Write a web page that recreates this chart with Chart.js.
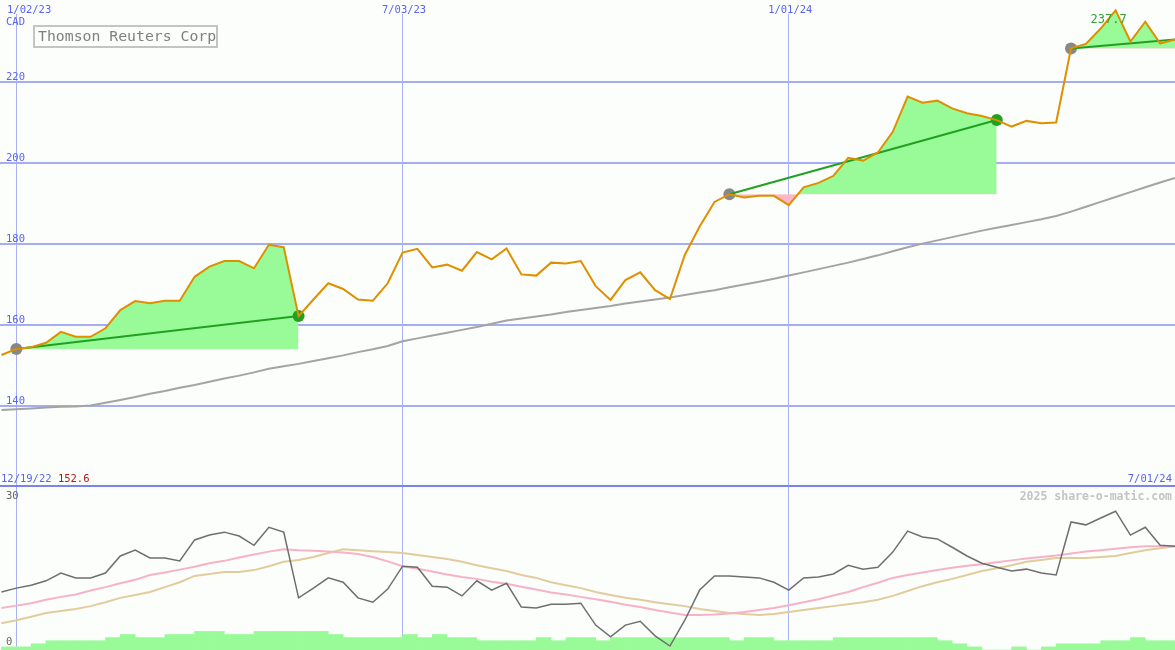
<!DOCTYPE html>
<html>
<head>
<meta charset="utf-8">
<title>Thomson Reuters Corp</title>
<script src="https://cdn.jsdelivr.net/npm/chart.js@4.4.1/dist/chart.umd.min.js"></script>
<style>
  html, body { margin: 0; padding: 0; background: #fbfefa; }
  canvas { display: block; }
</style>
</head>
<body>
<canvas id="price-chart" width="1175" height="487"></canvas>
<canvas id="osc-chart" width="1175" height="163"></canvas>
<script>
'use strict';

// weekly data, week 0 = 12/26/22
const prices = [
  152.6, 154.1, 154.5, 155.6, 158.3, 157.1, 157.1, 159.2, 163.7, 165.9,
  165.4, 166.0, 166.0, 171.9, 174.4, 175.8, 175.8, 174.0, 179.8, 179.2,
  162.2, 166.3, 170.3, 168.9, 166.3, 166.0, 170.3, 177.9, 178.8, 174.2,
  174.9, 173.4, 178.0, 176.2, 178.9, 172.5, 172.2, 175.4, 175.2, 175.8,
  169.6, 166.2, 171.1, 173.0, 168.6, 166.4, 177.3, 184.3, 190.4, 192.3,
  191.5, 191.9, 191.9, 189.6, 194.0, 195.1, 196.8, 201.3, 200.6, 202.6,
  207.7, 216.4, 214.9, 215.4, 213.5, 212.3, 211.6, 210.6, 209.0, 210.4,
  209.8, 210.0, 228.3, 229.4, 233.2, 237.7, 230.0, 234.9, 229.5, 230.5
];
const longAverage = [
  139.0, 139.2, 139.4, 139.6, 139.8, 139.9, 140.1, 140.8, 141.5, 142.2,
  143.0, 143.7, 144.5, 145.2, 146.0, 146.8, 147.5, 148.3, 149.2, 149.8,
  150.4, 151.1, 151.8, 152.5, 153.3, 154.0, 154.8, 156.0, 156.7, 157.4,
  158.1, 158.8, 159.5, 160.3, 161.1, 161.6, 162.1, 162.6, 163.2, 163.7,
  164.2, 164.7, 165.3, 165.8, 166.3, 166.8, 167.4, 168.0, 168.6, 169.3,
  170.0, 170.7, 171.4, 172.2, 173.0, 173.8, 174.6, 175.4, 176.3, 177.2,
  178.2, 179.2, 180.1, 180.9, 181.7, 182.5, 183.3, 184.0, 184.7, 185.4,
  186.1, 186.9, 188.0, 189.2, 190.4, 191.6, 192.8, 194.0, 195.2, 196.3
];
const oscillator = [
  11.3, 12.1, 12.7, 13.6, 15.2, 14.2, 14.2, 15.2, 18.7, 19.9,
  18.3, 18.3, 17.7, 22.0, 23.0, 23.6, 22.8, 20.9, 24.6, 23.6,
  10.1, 12.1, 14.2, 13.3, 10.1, 9.2, 11.9, 16.6, 16.4, 12.5,
  12.3, 10.5, 13.6, 11.7, 13.1, 8.2, 8.0, 8.8, 8.8, 9.0,
  4.5, 2.1, 4.5, 5.3, 2.3, 0.2, 5.5, 11.7, 14.6, 14.6,
  14.4, 14.2, 13.3, 11.7, 14.2, 14.4, 15.0, 16.8, 16.0, 16.4,
  19.5, 23.8, 22.6, 22.2, 20.5, 18.7, 17.2, 16.4, 15.6, 16.0,
  15.2, 14.8, 25.7, 25.1, 26.5, 27.9, 23.0, 24.6, 20.9, 20.7
];
const oscFast = [
  8.0, 8.5, 9.0, 9.7, 10.3, 10.8, 11.6, 12.3, 13.1, 13.8,
  14.8, 15.3, 15.9, 16.5, 17.2, 17.7, 18.4, 19.0, 19.6, 20.1,
  19.9, 19.8, 19.6, 19.4, 19.1, 18.5, 17.6, 16.6, 16.1, 15.5,
  14.9, 14.4, 14.0, 13.4, 13.0, 12.4, 11.8, 11.2, 10.8, 10.3,
  9.8, 9.3, 8.7, 8.2, 7.6, 7.1, 6.6, 6.6, 6.7, 6.9,
  7.2, 7.6, 8.0, 8.6, 9.2, 9.8, 10.6, 11.3, 12.3, 13.2,
  14.2, 14.8, 15.3, 15.8, 16.3, 16.7, 17.0, 17.4, 17.8, 18.2,
  18.5, 18.8, 19.2, 19.6, 19.9, 20.2, 20.5, 20.7, 20.7, 20.7
];
const oscSlow = [
  4.9, 5.5, 6.2, 7.0, 7.4, 7.8, 8.4, 9.2, 10.1, 10.7,
  11.3, 12.3, 13.3, 14.6, 15.0, 15.4, 15.4, 15.8, 16.6, 17.5,
  17.9, 18.5, 19.3, 20.1, 19.9, 19.7, 19.5, 19.3, 18.9, 18.5,
  18.1, 17.5, 16.8, 16.2, 15.6, 14.8, 14.2, 13.3, 12.7, 12.1,
  11.3, 10.7, 10.1, 9.7, 9.2, 8.8, 8.4, 7.8, 7.4, 7.0,
  6.8, 6.6, 6.8, 7.2, 7.6, 8.0, 8.4, 8.8, 9.2, 9.7,
  10.5, 11.5, 12.5, 13.3, 14.0, 14.8, 15.6, 16.2, 16.8, 17.5,
  17.9, 18.3, 18.3, 18.3, 18.5, 18.7, 19.3, 19.9, 20.3, 20.7
];
// one bar per week, between week k and week k+1
const volumes = [
  1, 1, 2, 3, 3, 3, 3, 4, 5, 4,
  4, 5, 5, 6, 6, 5, 5, 6, 6, 6,
  6, 6, 5, 4, 4, 4, 4, 5, 4, 5,
  4, 4, 3, 3, 3, 3, 4, 3, 4, 4,
  3, 4, 4, 4, 4, 4, 4, 4, 4, 3,
  4, 4, 3, 3, 3, 3, 4, 4, 4, 4,
  4, 4, 4, 3, 2, 1, 0, 0, 1, 0,
  1, 2, 2, 2, 3, 3, 4, 3, 3
];

const dateTickWeeks = [1, 27, 53];
const dateTickLabels = ['1/02/23', '7/03/23', '1/01/24'];
const priceTicks = [140, 160, 180, 200, 220];
const oscTicks = [0, 30];
const trendStarts = [1, 49, 72];
const trendEnds = [20, 67, 79];
const startLabel = '12/19/22';
const endLabel = '7/01/24';

const bg = '#fbfefa';
const blue = '#5a64f0';
const mono = '"DejaVu Sans Mono", monospace';
const fillGreen = '#98fb98';
const fillPink = '#ffb6c6';
const trendGreen = '#22a022';

const pts = arr => arr.map((v, i) => ({ x: i, y: v }));
function makeXScale() {
  return {
    type: 'linear', min: -0.1, max: prices.length - 1, offset: false,
    afterBuildTicks: s => { s.ticks = dateTickWeeks.map(v => ({ value: v })); },
    ticks: { display: false },
    grid: { color: '#a9b1f2', lineWidth: 1, drawTicks: false, offset: false },
    border: { display: false }
  };
}

// price panel datasets
const priceSets = [];
priceSets.push({ data: pts(prices), borderColor: '#de9000', borderWidth: 2, order: 1 });
trendStarts.forEach((s, k) => {
  const e = trendEnds[k];
  priceSets.push({
    data: [{ x: s, y: prices[s] }, { x: e, y: prices[e] }],
    borderColor: trendGreen, borderWidth: 2, order: 2
  });
  priceSets.push({
    data: pts(prices).slice(s, e + 1),
    borderWidth: 0, borderColor: 'rgba(0,0,0,0)',
    fill: { target: { value: prices[s] }, above: fillGreen, below: fillPink },
    order: 9
  });
});
priceSets.push({
  data: trendStarts.map(s => ({ x: s, y: prices[s] })),
  showLine: false, pointRadius: 6, pointBackgroundColor: '#888888', pointBorderWidth: 0, order: 4
});
priceSets.push({
  data: trendEnds.filter(e => e < prices.length - 1).map(e => ({ x: e, y: prices[e] })),
  showLine: false, pointRadius: 6, pointBackgroundColor: trendGreen, pointBorderWidth: 0, order: 4
});
priceSets.push({ data: pts(longAverage), borderColor: '#a4a4a4', borderWidth: 2, order: 6 });

const priceDecor = {
  id: 'priceDecor',
  beforeDatasetsDraw(chart) {
    const ctx = chart.ctx;
    ctx.save();
    ctx.fillStyle = bg;
    ctx.fillRect(0, 0, chart.width, 14);
    ctx.restore();
  },
  afterDraw(chart) {
    const { ctx, scales: { x, y } } = chart;
    ctx.save();
    ctx.font = '10.5px ' + mono;
    ctx.fillStyle = blue;
    dateTickWeeks.forEach((w, i) => {
      const tw = ctx.measureText(dateTickLabels[i]).width;
      const left = Math.max(x.getPixelForValue(w) + 1.5 - tw / 2, 7);
      ctx.fillText(dateTickLabels[i], left, 13);
    });
    ctx.fillText('CAD', 6, 25);
    priceTicks.forEach(v => ctx.fillText(String(v), 6, y.getPixelForValue(v) - 2));

    // bottom line of the panel
    ctx.fillText(startLabel, 1, 482);
    const sw = ctx.measureText(startLabel + ' ').width;
    ctx.fillStyle = '#b01818';
    ctx.fillText(prices[0].toFixed(1), 1 + sw, 482);
    ctx.fillStyle = blue;
    ctx.textAlign = 'right';
    ctx.fillText(endLabel, 1172, 482);
    ctx.fillStyle = '#7a84ea';
    ctx.fillRect(0, 485, chart.width, 2.5);

    // title box
    ctx.textAlign = 'left';
    ctx.strokeStyle = '#c4c4c4';
    ctx.lineWidth = 2;
    ctx.strokeRect(34, 26, 183, 21);
    ctx.fillStyle = '#808080';
    ctx.font = '14.8px ' + mono;
    ctx.fillText('Thomson Reuters Corp', 38, 41);

    // peak value
    const peak = Math.max(...prices);
    const pi = prices.indexOf(peak);
    ctx.font = '12px ' + mono;
    ctx.fillStyle = '#33a033';
    ctx.textAlign = 'center';
    ctx.fillText(peak.toFixed(1), x.getPixelForValue(pi) - 7, y.getPixelForValue(peak) + 13);
    ctx.restore();
  }
};

new Chart(document.getElementById('price-chart'), {
  type: 'line',
  data: { datasets: priceSets },
  options: {
    responsive: false,
    animation: false,
    layout: { padding: 0, autoPadding: false },
    plugins: { legend: { display: false }, tooltip: { enabled: false } },
    elements: { point: { radius: 0, hoverRadius: 0 }, line: { tension: 0 } },
    scales: {
      x: makeXScale(),
      y: {
        min: 120, max: 240.25,
        afterBuildTicks: s => { s.ticks = priceTicks.map(v => ({ value: v })); },
        ticks: { display: false },
        grid: { color: '#a5aef2', lineWidth: 2, drawTicks: false },
        border: { display: false }
      }
    }
  },
  plugins: [priceDecor]
});

// oscillator panel
const oscDecor = {
  id: 'oscDecor',
  afterDraw(chart) {
    const { ctx, scales: { y } } = chart;
    ctx.save();
    ctx.font = '10.5px ' + mono;
    ctx.fillStyle = '#666666';
    oscTicks.forEach(v => ctx.fillText(String(v), 6, y.getPixelForValue(v) - 2));
    ctx.font = 'bold 11.5px ' + mono;
    ctx.fillStyle = '#c4c4c4';
    ctx.textAlign = 'right';
    ctx.fillText('2025 share-o-matic.com', 1172, 13);
    ctx.restore();
  }
};

new Chart(document.getElementById('osc-chart'), {
  type: 'line',
  data: {
    datasets: [
      { data: pts(oscillator), borderColor: '#6e6e6e', borderWidth: 1.5, order: 1 },
      { data: pts(oscFast), borderColor: '#f7b2c6', borderWidth: 2, order: 2 },
      { data: pts(oscSlow), borderColor: '#e2cc9e', borderWidth: 2, order: 3 },
      {
        type: 'bar', yAxisID: 'yv',
        data: volumes.map((v, k) => ({ x: k + 0.5, y: v })),
        backgroundColor: fillGreen, borderWidth: 0,
        barPercentage: 1, categoryPercentage: 1, order: 5
      }
    ]
  },
  options: {
    responsive: false,
    animation: false,
    layout: { padding: 0, autoPadding: false },
    plugins: { legend: { display: false }, tooltip: { enabled: false } },
    elements: { point: { radius: 0, hoverRadius: 0 }, line: { tension: 0 } },
    scales: {
      x: makeXScale(),
      y: { display: false, min: -0.616, max: 32.877 },
      yv: { display: false, min: 0, max: 52.6 }
    }
  },
  plugins: [oscDecor]
});
</script>
</body>
</html>
